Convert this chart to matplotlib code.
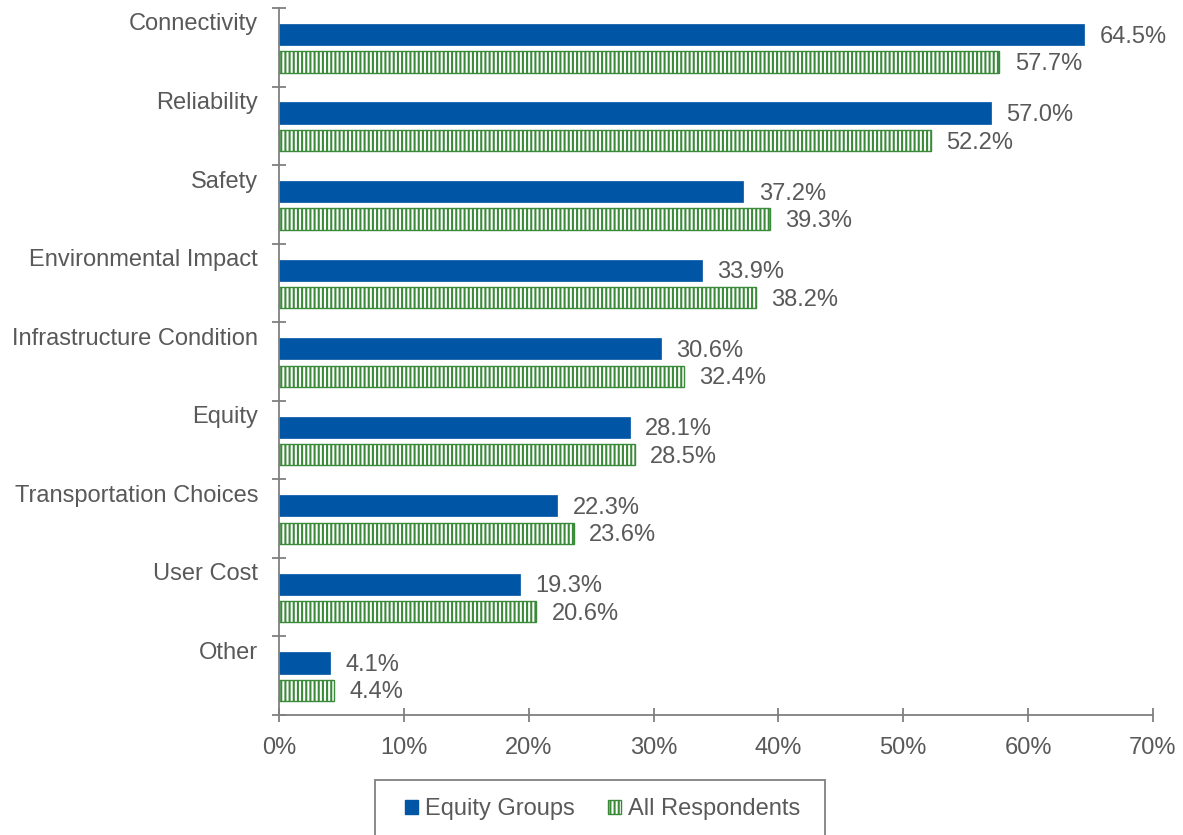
import matplotlib
matplotlib.use("Agg")
import matplotlib.pyplot as plt
from matplotlib.patches import Patch, Rectangle

categories = ["Connectivity", "Reliability", "Safety", "Environmental Impact",
              "Infrastructure Condition", "Equity", "Transportation Choices",
              "User Cost", "Other"]
equity_groups = [64.5, 57.0, 37.2, 33.9, 30.6, 28.1, 22.3, 19.3, 4.1]
all_respondents = [57.7, 52.2, 39.3, 38.2, 32.4, 28.5, 23.6, 20.6, 4.4]
x_ticks = [0, 10, 20, 30, 40, 50, 60, 70]

BLUE = "#0055A4"
GREEN = "#3A8A3A"
TEXT = "#595959"
AXIS = "#808080"
FS = 17

plt.rcParams["font.family"] = ["Liberation Sans", "DejaVu Sans"]
plt.rcParams["hatch.linewidth"] = 1.5
plt.rcParams["hatch.color"] = GREEN

fig = plt.figure(figsize=(11.83, 8.35), dpi=100)
ax = fig.add_axes([279 / 1183, 1 - 715 / 835, (1153 - 279) / 1183, (715 - 8) / 835])

n = len(categories)
pos = list(range(n))
bar_h = 0.27
blue_y = [p + 0.337 for p in pos]
green_y = [p + 0.687 for p in pos]

ax.barh(blue_y, equity_groups, height=bar_h, color=BLUE, edgecolor=BLUE, linewidth=0.5)
ax.barh(green_y, all_respondents, height=bar_h, color="white", edgecolor=GREEN,
        hatch="||||", linewidth=1.0)

for y, v in zip(blue_y, equity_groups):
    ax.annotate(f"{v:.1f}%", (v, y), xytext=(11, -1.5), textcoords="offset points",
                va="center", ha="left", fontsize=FS, color=TEXT)
for y, v in zip(green_y, all_respondents):
    ax.annotate(f"{v:.1f}%", (v, y), xytext=(11, -1.5), textcoords="offset points",
                va="center", ha="left", fontsize=FS, color=TEXT)

for p, name in zip(pos, categories):
    ax.annotate(name, (0, p + 0.21), xycoords=("axes fraction", "data"),
                xytext=(-15, 0), textcoords="offset points",
                va="center", ha="right", fontsize=FS, color=TEXT)

ax.set_xlim(0, 70)
ax.set_ylim(n, 0)
ax.set_xticks(x_ticks)
ax.set_xticklabels([f"{t}%" for t in x_ticks])
ax.set_yticks(list(range(n + 1)))
ax.set_yticklabels([])

for s in ["top", "right"]:
    ax.spines[s].set_visible(False)
for s in ["left", "bottom"]:
    ax.spines[s].set_color(AXIS)
    ax.spines[s].set_linewidth(1.3)

ax.tick_params(axis="x", direction="inout", length=10, width=1.3, color=AXIS,
               labelsize=FS, labelcolor=TEXT, pad=11)
ax.tick_params(axis="y", direction="inout", length=10, width=1.3, color=AXIS)

# Legend frame
fig.patches.append(Rectangle((375 / 1183, -0.02), 450 / 1183, (835 - 780) / 835 + 0.02,
                             transform=fig.transFigure, fill=False,
                             edgecolor=AXIS, linewidth=1.3))
handles = [Patch(facecolor=BLUE, edgecolor=BLUE, label="Equity Groups"),
           Patch(facecolor="white", edgecolor=GREEN, hatch="||||", label="All Respondents")]
fig.legend(handles=handles, loc="center", bbox_to_anchor=(603 / 1183, 1 - 809 / 835),
           ncol=2, frameon=False, fontsize=FS, labelcolor=TEXT,
           handlelength=0.55, handleheight=0.55, handletextpad=0.3, columnspacing=1.4)

fig.savefig("out.png", dpi=100)
